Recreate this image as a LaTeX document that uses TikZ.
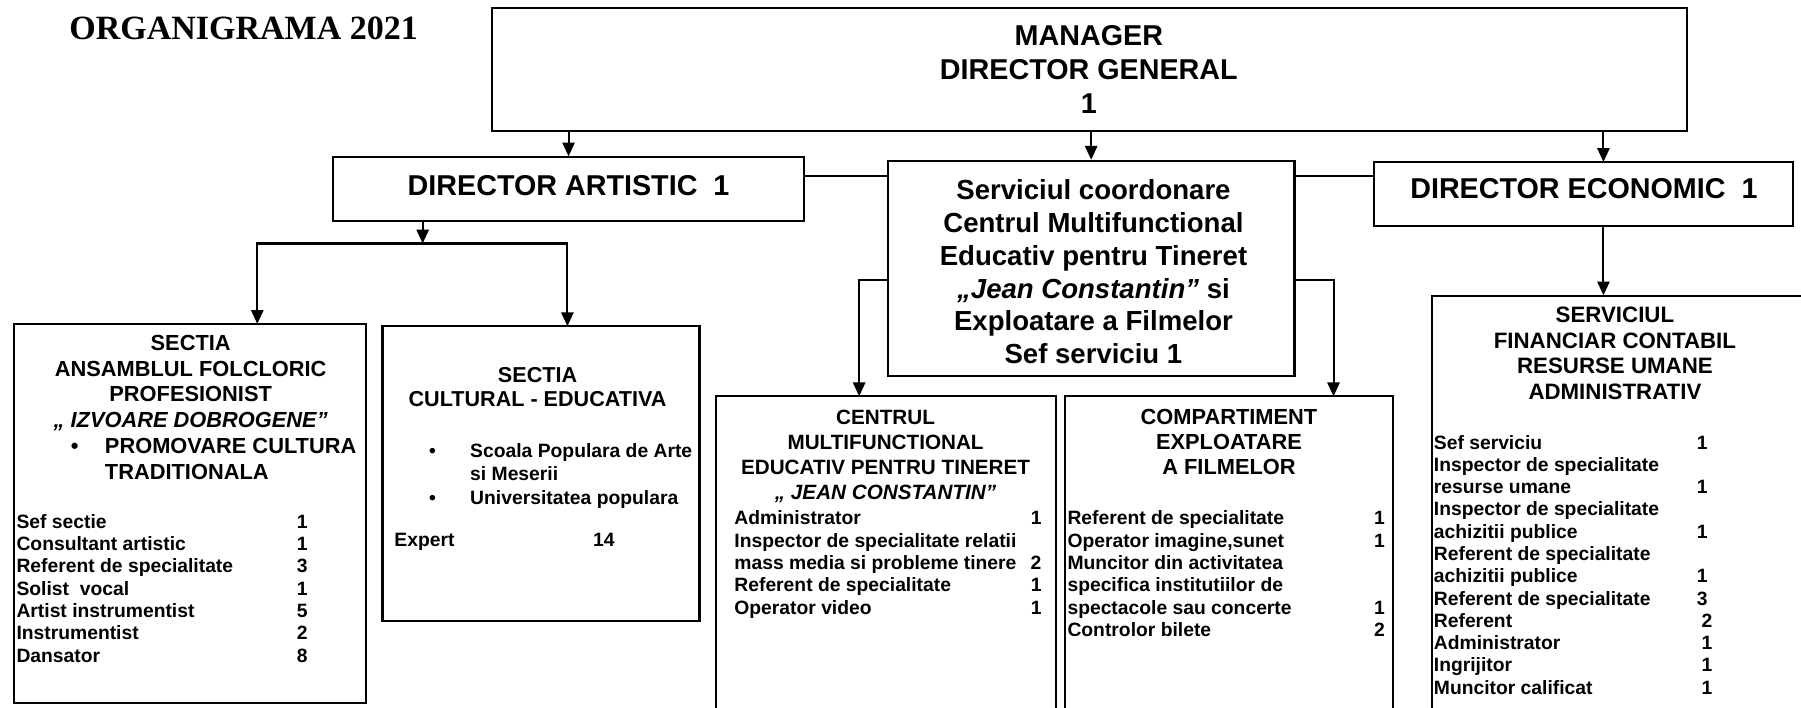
\documentclass[tikz,border=0pt]{standalone}
\usepackage{fontspec}
\setmainfont{Liberation Sans}
\newfontfamily\titlefont{Liberation Serif}
\usetikzlibrary{arrows.meta,fit,calc}

\tikzset{
  box/.style={draw, line width=0.9pt, inner sep=0pt},
  arr/.style={line width=0.9pt, -{Triangle[length=6pt,width=5.3pt]}},
  link/.style={line width=0.9pt},
  bighead/.style={font=\bfseries\fontsize{12.5}{14.75}\selectfont, anchor=base, inner sep=0pt},
  subhead/.style={font=\bfseries\fontsize{9.5}{11.2}\selectfont, anchor=base, inner sep=0pt},
  posts/.style={font=\bfseries\fontsize{8.4}{9.7}\selectfont, anchor=base west, inner sep=0pt},
}

\begin{document}
\begin{tikzpicture}[x=0.5pt, y=-0.5pt]
  \useasboundingbox (0,0) rectangle (1568,616);
  \clip (0,0) rectangle (1568,616);

  % Title
  \node[anchor=base west, inner sep=0pt, font=\titlefont\bfseries\fontsize{14.8}{17}\selectfont] (title) at (60,34) {ORGANIGRAMA 2021};

  % Draw top level boxes
  \node[box, fit={(428,7) (1469,114)}] (mgr) {};
  \node[box, fit={(290,137) (700,192)}] (dirart) {};
  \node[box, fit={(773,140) (1127,327)}] (coord) {};
  \node[box, fit={(1196,141) (1561,197)}] (direc) {};

  \node[bighead] (mgrt) at (948,40) {\begin{tabular}[t]{@{}c@{}}MANAGER\\DIRECTOR GENERAL\\1\end{tabular}};
  \node[bighead] (dirartt) at (495,170) {DIRECTOR ARTISTIC~~1};
  \node[bighead] (direct) at (1379,173) {DIRECTOR ECONOMIC~~1};
  \node[bighead, font=\bfseries\fontsize{12}{14.25}\selectfont] (coordt) at (952,174) {\begin{tabular}[t]{@{}c@{}}
    Serviciul coordonare\\Centrul Multifunctional\\Educativ pentru Tineret\\\textit{„Jean Constantin”} si\\Exploatare a Filmelor\\Sef serviciu 1
  \end{tabular}};

  % Draw sections
  \node[box, fit={(12,282) (319,612)}] (ansamblu) {};
  \node[box, fit={(333,284) (609,541)}] (cultural) {};
  \node[box, fit={(623,345) (919,640)}] (centrul) {};
  \node[box, fit={(927,345) (1213,640)}] (compart) {};
  \node[box, fit={(1247,258) (1600,640)}] (servfin) {};

  % Sectia ansamblul folcloric
  \node[subhead] (ansh) at (166,305) {\begin{tabular}[t]{@{}c@{}}SECTIA\\ANSAMBLUL FOLCLORIC\\PROFESIONIST\\\itshape „ IZVOARE DOBROGENE”\end{tabular}};
  \node[subhead, anchor=base west] (ansb) at (91,395) {\begin{tabular}[t]{@{}l@{}}\llap{\textbullet\hspace{11.5pt}}PROMOVARE CULTURA\\TRADITIONALA\end{tabular}};
  \node[posts] (ansl) at (14,460) {\begin{tabular}[t]{@{}p{122pt}@{}l@{}}
    Sef sectie & 1\\
    Consultant artistic & 1\\
    Referent de specialitate & 3\\
    Solist\ \ vocal & 1\\
    Artist instrumentist & 5\\
    Instrumentist & 2\\
    Dansator & 8
  \end{tabular}};

  % Sectia cultural - educativa
  \node[subhead, font=\bfseries\fontsize{9.4}{10.5}\selectfont] (culh) at (468,333) {\begin{tabular}[t]{@{}c@{}}SECTIA\\CULTURAL - EDUCATIVA\end{tabular}};
  \node[posts, font=\bfseries\fontsize{8.4}{10.25}\selectfont] (culb) at (409,398) {\begin{tabular}[t]{@{}l@{}}
    \llap{\textbullet\hspace{15pt}}Scoala Populara de Arte\\
    si Meserii\\
    \llap{\textbullet\hspace{15pt}}Universitatea populara
  \end{tabular}};
  \node[posts] (cull) at (343,476) {\begin{tabular}[t]{@{}p{86.5pt}@{}l@{}}Expert & 14\end{tabular}};

  % Centrul multifunctional
  \node[subhead, font=\bfseries\fontsize{9}{10.85}\selectfont] (cenh) at (771,370) {\begin{tabular}[t]{@{}c@{}}CENTRUL\\MULTIFUNCTIONAL\\EDUCATIV PENTRU TINERET\\\itshape „ JEAN CONSTANTIN”\end{tabular}};
  \node[posts] (cenl) at (639,457) {\begin{tabular}[t]{@{}p{129pt}@{}l@{}}
    Administrator & 1\\
    Inspector de specialitate relatii & \\
    mass media si probleme tinere & 2\\
    Referent de specialitate & 1\\
    Operator video & 1
  \end{tabular}};

  % Compartiment exploatare a filmelor
  \node[subhead, font=\bfseries\fontsize{9.5}{10.75}\selectfont] (cmph) at (1070,370) {\begin{tabular}[t]{@{}c@{}}COMPARTIMENT\\EXPLOATARE\\A FILMELOR\end{tabular}};
  \node[posts] (cmpl) at (929,457) {\begin{tabular}[t]{@{}p{133.5pt}@{}l@{}}
    Referent de specialitate & 1\\
    Operator imagine,sunet & 1\\
    Muncitor din activitatea & \\
    specifica institutiilor de & \\
    spectacole sau concerte & 1\\
    Controlor bilete & 2
  \end{tabular}};

  % Serviciul financiar contabil
  \node[subhead, font=\bfseries\fontsize{9.7}{11.15}\selectfont] (finh) at (1406,281) {\begin{tabular}[t]{@{}c@{}}SERVICIUL\\FINANCIAR CONTABIL\\RESURSE UMANE\\ADMINISTRATIV\end{tabular}};
  \node[posts] (finl) at (1248,391) {\begin{tabular}[t]{@{}p{114.5pt}@{}l@{}}
    Sef serviciu & 1\\
    Inspector de specialitate & \\
    resurse umane & 1\\
    Inspector de specialitate & \\
    achizitii publice & 1\\
    Referent de specialitate & \\
    achizitii publice & 1\\
    Referent de specialitate & 3\\
    Referent & \hspace{2pt}2\\
    Administrator & \hspace{2pt}1\\
    Ingrijitor & \hspace{2pt}1\\
    Muncitor calificat & \hspace{2pt}1
  \end{tabular}};

  % Connect manager to directors
  \coordinate (econ) at (1396,141);
  \draw[arr] (mgr.south -| dirart.north) -- (dirart.north);
  \draw[arr] (mgr.south -| coord.north) -- (coord.north);
  \draw[arr] (mgr.south -| econ) -- (econ);
  \coordinate (bar) at (0,153);
  \draw[link] (dirart.east |- bar) -- (coord.west |- bar);
  \draw[link] (coord.east |- bar) -- (direc.west |- bar);

  % Connect director artistic to sections
  \coordinate (split) at (368,212);
  \coordinate (ansin) at (224,282);
  \coordinate (culin) at (494,284);
  \draw[arr] (split |- dirart.south) -- (split);
  \draw[arr] (split) -| (ansin);
  \draw[arr] (split) -| (culin);

  % Connect serviciul to centrul and compartiment
  \coordinate (fork) at (0,244);
  \coordinate (cenin) at (748,345);
  \coordinate (cmpin) at (1161,345);
  \draw[arr] (coord.west |- fork) -| (cenin);
  \draw[arr] (coord.east |- fork) -| (cmpin);

  % Director economic to serviciul financiar
  \draw[arr] (econ |- direc.south) -- (econ |- servfin.north);
\end{tikzpicture}
\end{document}
